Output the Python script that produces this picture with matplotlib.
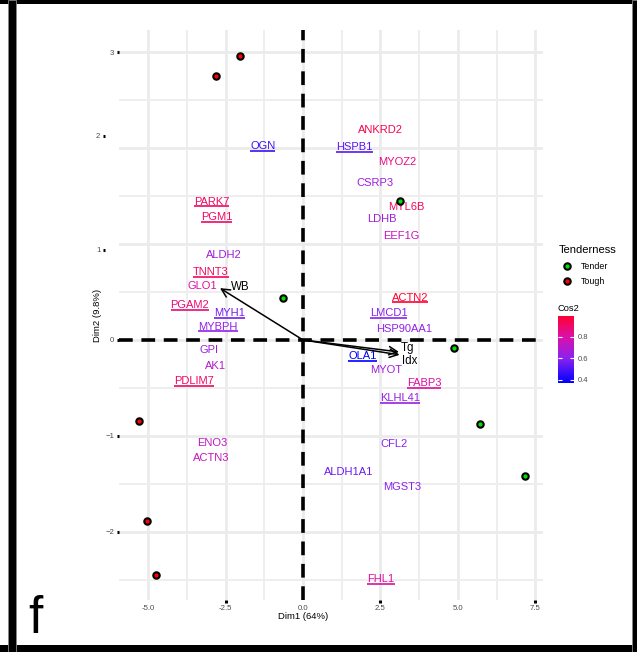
"""PCA biplot of tenderness samples with protein loadings coloured by cos2."""

import matplotlib

matplotlib.use("Agg")

import matplotlib.pyplot as plt
from matplotlib.cm import ScalarMappable
from matplotlib.colors import LinearSegmentedColormap, Normalize
from matplotlib.lines import Line2D
from matplotlib.patches import Rectangle
from matplotlib.transforms import ScaledTranslation

plt.rcParams["font.family"] = ["Liberation Sans", "DejaVu Sans"]

# Individuals (samples)
sample_x = [-2.03, -2.81, -5.31, -5.03, -4.73, -0.66, 3.13, 4.89, 5.73, 7.16]
sample_y = [2.96, 2.75, -0.84, -1.89, -2.45, 0.44, 1.45, -0.08, -0.88, -1.42]
sample_group = ["Tough", "Tough", "Tough", "Tough", "Tough",
                "Tender", "Tender", "Tender", "Tender", "Tender"]
group_colors = {"Tender": "#00E000", "Tough": "#FF0000"}

# Supplementary variables (arrows)
var_names = ["WB", "Tg", "Idx"]
var_x = [-2.68, 3.10, 3.12]
var_y = [0.54, -0.125, -0.155]
var_label_x = [-2.33, 3.17, 3.19]
var_label_y = [0.555, -0.08, -0.22]

# Protein labels
genes = ["OGN", "PARK7", "PGM1", "ALDH2", "TNNT3", "GLO1", "PGAM2", "MYH1",
         "MYBPH", "GPI", "AK1", "PDLIM7", "ENO3", "ACTN3",
         "ANKRD2", "HSPB1", "MYOZ2", "CSRP3", "MYL6B", "LDHB", "EEF1G",
         "ACTN2", "LMCD1", "HSP90AA1", "OLA1", "MYOT", "FABP3", "KLHL41",
         "CFL2", "ALDH1A1", "MGST3", "FHL1"]
gene_x = [-1.30, -2.95, -2.79, -2.55, -2.98, -3.25, -3.65, -2.36,
          -2.74, -3.04, -2.84, -3.52, -2.94, -2.97,
          2.50, 1.66, 3.04, 2.32, 3.35, 2.55, 3.17,
          3.46, 2.76, 3.26, 1.92, 2.69, 3.91, 3.14,
          2.94, 1.49, 3.19, 2.52]
gene_y = [2.02, 1.44, 1.28, 0.89, 0.71, 0.56, 0.36, 0.28,
          0.14, -0.10, -0.27, -0.43, -1.07, -1.23,
          2.19, 2.01, 1.85, 1.64, 1.39, 1.26, 1.08,
          0.44, 0.28, 0.11, -0.17, -0.31, -0.45, -0.61,
          -1.08, -1.38, -1.53, -2.49]
gene_cos2 = [0.47, 0.91, 0.91, 0.65, 0.91, 0.81, 0.88, 0.56,
             0.62, 0.66, 0.70, 0.91, 0.72, 0.74,
             0.94, 0.52, 0.86, 0.65, 0.92, 0.65, 0.75,
             0.99, 0.60, 0.62, 0.37, 0.65, 0.81, 0.62,
             0.60, 0.55, 0.60, 0.81]
gene_underlined = [True, True, True, False, True, False, True, True,
                   True, False, False, True, False, False,
                   False, True, False, False, False, False, False,
                   True, True, False, True, False, True, True,
                   False, False, False, True]

x_ticks = [-5.0, -2.5, 0.0, 2.5, 5.0, 7.5]
x_tick_labels = ["-5.0", "-2.5", "0.0", "2.5", "5.0", "7.5"]
y_ticks = [-2, -1, 0, 1, 2, 3]
y_tick_labels = ["\u22122", "\u22121", "0", "1", "2", "3"]
cbar_ticks = [0.4, 0.6, 0.8]

cos2_cmap = LinearSegmentedColormap.from_list(
    "cos2", [(0.0, "#0000FF"), (0.37, "#8A22EE"), (0.69, "#DC10A8"), (1.0, "#FF0030")]
)
cos2_norm = Normalize(vmin=min(gene_cos2), vmax=max(gene_cos2))

fig = plt.figure(figsize=(6.37, 6.52), dpi=100)
ax = fig.add_axes([119 / 637, 52 / 652, 424 / 637, 570 / 652])

ax.set_xlim(-5.94, 7.75)
ax.set_ylim(-2.71, 3.23)
ax.set_xticks(x_ticks, x_tick_labels)
ax.set_xticks([-3.75, -1.25, 1.25, 3.75, 6.25], minor=True)
ax.set_yticks(y_ticks, y_tick_labels)
ax.set_yticks([-2.5, -1.5, -0.5, 0.5, 1.5, 2.5], minor=True)
ax.grid(which="major", color="#EBEBEB", lw=2.0)
ax.grid(which="minor", color="#EEEEEE", lw=1.4)
ax.set_axisbelow(True)
for spine in ax.spines.values():
    spine.set_visible(False)
ax.tick_params(which="minor", length=0)
ax.tick_params(which="major", length=1.8, width=2.2, color="black",
               labelsize=5.6, labelcolor="#4D4D4D", pad=1.5)

# Quadrant lines
ax.axhline(0, color="black", lw=2.6, dashes=(3.8, 2.4), zorder=2)
ax.axvline(0, color="black", lw=2.6, dashes=(3.8, 2.4), zorder=2)

# Variable arrows
for name, vx, vy, lx, ly in zip(var_names, var_x, var_y, var_label_x, var_label_y):
    ax.annotate("", xy=(vx, vy), xytext=(0, 0),
                arrowprops=dict(arrowstyle="->,head_length=0.6,head_width=0.3",
                                lw=1.1, color="black", shrinkA=0, shrinkB=0,
                                mutation_scale=10), zorder=3)
    ax.text(lx, ly, name, fontsize=8.3, color="black", ha="left", va="center", zorder=4)

# Samples
for sx, sy, grp in zip(sample_x, sample_y, sample_group):
    ax.plot(sx, sy, marker="o", ls="", ms=4.6, mfc=group_colors[grp], mec="black",
            mew=1.5, zorder=5)

# Protein labels
underlined_texts = []
for name, gx, gy, c2, ul in zip(genes, gene_x, gene_y, gene_cos2, gene_underlined):
    t = ax.text(gx, gy, name, fontsize=8, color=cos2_cmap(cos2_norm(c2)),
                ha="center", va="center", zorder=4)
    if ul:
        underlined_texts.append(t)

ax.set_xlabel("Dim1 (64%)", fontsize=6.8)
ax.set_ylabel("Dim2 (9.8%)", fontsize=6.8)
ax.xaxis.set_label_coords(0.434, -0.021)
ax.yaxis.set_label_coords(-0.040, 0.5)

# Odd tick placement in the reference
for tick, lab in zip(ax.xaxis.get_major_ticks(), x_tick_labels):
    if lab in ("-5.0", "0.0", "5.0"):
        tick.tick1line.set_visible(False)
y_offsets = {"2": (-0.14, 0.123), "1": (-0.14, -0.06)}
for tick, lab in zip(ax.yaxis.get_major_ticks(), y_tick_labels):
    if lab in y_offsets:
        dx, dy = y_offsets[lab]
        shift = ScaledTranslation(dx, dy, fig.dpi_scale_trans)
        tick.label1.set_transform(tick.label1.get_transform() + shift)
        tick.tick1line.set_transform(tick.tick1line.get_transform() + shift)

# Legend for groups
handles = [Line2D([], [], marker="o", ls="", ms=4.6, mfc=group_colors[g], mec="black", mew=1.5)
           for g in ("Tender", "Tough")]
leg = fig.legend(handles, ["Tender", "Tough"], title="Tenderness", loc="upper left",
                 bbox_to_anchor=(554 / 637, (652 - 241) / 652), frameon=False,
                 fontsize=6.4, title_fontsize=8, borderpad=0, handlelength=2.0,
                 handletextpad=0.55, labelspacing=0.7, alignment="left")

# Colour bar for cos2
fig.text(558 / 637, (652 - 308) / 652, "Cos2", fontsize=6.7, ha="left", va="center")
cax = fig.add_axes([558 / 637, (652 - 383) / 652, 16 / 637, 67 / 652])
cb = fig.colorbar(ScalarMappable(norm=cos2_norm, cmap=cos2_cmap), cax=cax, ticks=cbar_ticks)
cb.outline.set_visible(False)
cax.yaxis.set_ticks_position("both")
cax.tick_params(direction="in", color="white", length=3, width=0.8,
                labelsize=5.5, labelcolor="#4D4D4D", pad=3)
cax.set_yticklabels([f"{v:.1f}" for v in cbar_ticks])

# Panel letter
fig.text(28 / 637, 19 / 652, "f", fontsize=37, ha="left", va="baseline")

# Frame bars
fig.patches.extend([
    Rectangle((0, 648 / 652), 1, 4 / 652, transform=fig.transFigure, fc="black", ec="none"),
    Rectangle((0, 0), 1, 7 / 652, transform=fig.transFigure, fc="black", ec="none"),
    Rectangle((8 / 637, 0), 8 / 637, 1, transform=fig.transFigure, fc="black", ec="#888888", lw=0.6),
    Rectangle((632 / 637, 0), 5 / 637, 1, transform=fig.transFigure, fc="black", ec="#888888", lw=0.6),
])

# Underline the labelled proteins
fig.canvas.draw()
renderer = fig.canvas.get_renderer()
inv = ax.transData.inverted()
for t in underlined_texts:
    bb = t.get_window_extent(renderer)
    (x0, y0), (x1, _) = inv.transform([(bb.x0, bb.y0 + 0.3), (bb.x1, bb.y0)])
    ax.plot([x0, x1], [y0, y0], color=t.get_color(), lw=1.2, solid_capstyle="butt", zorder=4)

fig.savefig("out.png", dpi=100)
